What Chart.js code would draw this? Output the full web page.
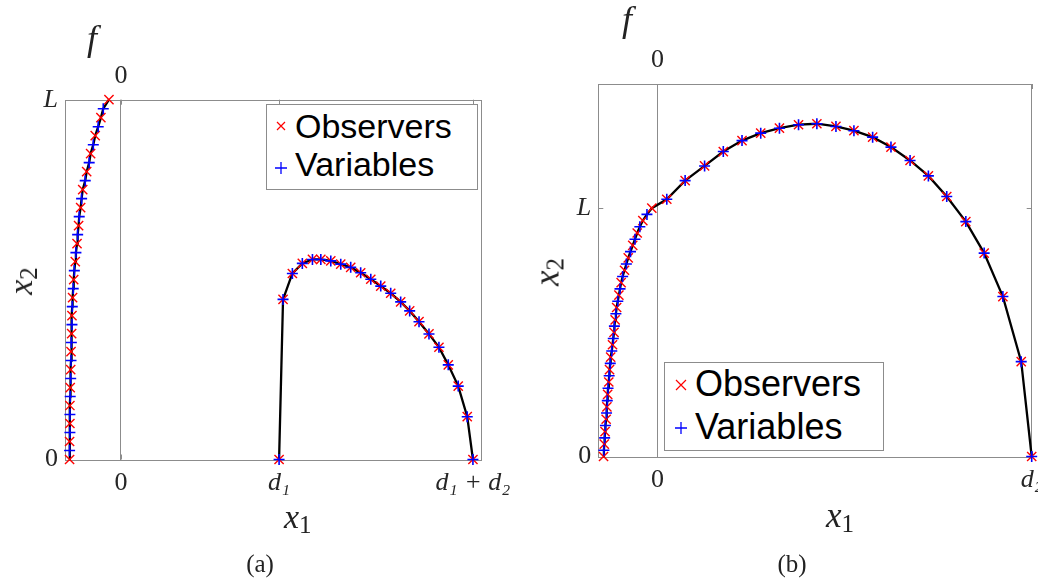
<!DOCTYPE html>
<html>
<head>
<meta charset="utf-8">
<script src="https://cdn.jsdelivr.net/npm/chart.js@4.4.1/dist/chart.umd.min.js"></script>
<style>
  html, body { margin: 0; padding: 0; background: #fff; width: 1038px; height: 583px; overflow: hidden; position: relative; }
  canvas { position: absolute; top: 0; }
  #chart-a { left: 0; }
  #chart-b { left: 519px; }
  .lbl { position: absolute; font-family: "Liberation Serif", "DejaVu Serif", serif; color: #222; white-space: nowrap; line-height: 1; }
  .lbl i { font-style: italic; }
  .lbl sub { font-style: normal; vertical-align: baseline; position: relative; }
  .legend { position: absolute; background: #fff; border: 1px solid #8c8c8c; font-family: "Liberation Sans", Arial, sans-serif; color: #000; box-sizing: border-box; }
  .legend span { position: absolute; line-height: 1; white-space: nowrap; }
  .legend svg { position: absolute; }
</style>
</head>
<body>
<canvas id="chart-a" width="519" height="583"></canvas>
<canvas id="chart-b" width="560" height="583"></canvas>

<div class="lbl" style="left:87px; top:20px; font-size:36px;"><i>f</i></div>
<div class="lbl" style="left:622px; top:1px; font-size:36px;"><i>f</i></div>

<div class="lbl" style="left:284px; top:500px; font-size:34px;"><i>x</i><sub style="font-size:25px; top:5px;">1</sub></div>
<div class="lbl" style="left:826px; top:498px; font-size:35px;"><i>x</i><sub style="font-size:25px; top:5px;">1</sub></div>

<div class="lbl" style="left:21px; top:281px; font-size:34px; transform: translate(-50%,-50%) rotate(-90deg);"><i>x</i><sub style="font-size:25px; top:5px;">2</sub></div>
<div class="lbl" style="left:547px; top:272px; font-size:35px; transform: translate(-50%,-50%) rotate(-90deg);"><i>x</i><sub style="font-size:25px; top:5px;">2</sub></div>

<div class="lbl" style="left:260px; top:563px; font-size:25px; transform: translate(-50%,-50%);">(a)</div>
<div class="lbl" style="left:792px; top:563px; font-size:25px; transform: translate(-50%,-50%);">(b)</div>

<div class="legend" style="left:266px; top:104px; width:212px; height:86px; font-size:34px;">
  <svg width="10" height="10" style="left:9px; top:16px;"><path d="M1 1L9 9M9 1L1 9" stroke="#ff0000" stroke-width="1.2"/></svg>
  <span style="left:28px; top:4px;">Observers</span>
  <svg width="14" height="14" style="left:7px; top:56px;"><path d="M7 1V13M1 7H13" stroke="#0000ff" stroke-width="1.3"/></svg>
  <span style="left:28px; top:42px;">Variables</span>
</div>
<div class="legend" style="left:664px; top:362px; width:220px; height:89px; font-size:36px;">
  <svg width="12" height="12" style="left:10px; top:16px;"><path d="M1 1L11 11M11 1L1 11" stroke="#ff0000" stroke-width="1.2"/></svg>
  <span style="left:30px; top:3px;">Observers</span>
  <svg width="14" height="14" style="left:9px; top:58px;"><path d="M7 1V13M1 7H13" stroke="#0000ff" stroke-width="1.3"/></svg>
  <span style="left:30px; top:46px;">Variables</span>
</div>

<script>
// heights x2 (in units of L) of observer / variable nodes on the f-boundary
const obsY = [0, 0.05, 0.1, 0.15, 0.2, 0.25, 0.3, 0.35, 0.4, 0.45, 0.5, 0.55, 0.6, 0.65, 0.7, 0.75, 0.8, 0.85, 0.9, 0.95, 1];
const varY = [0.025, 0.075, 0.125, 0.175, 0.225, 0.275, 0.325, 0.375, 0.425, 0.475, 0.525, 0.575, 0.625, 0.675, 0.725, 0.775, 0.825, 0.875, 0.925, 0.975];

// (a)  x1 in units of d1
const aObsF = [-0.325, -0.325, -0.323, -0.323, -0.321, -0.318, -0.316, -0.312, -0.310, -0.306, -0.299, -0.289, -0.278, -0.268, -0.255, -0.242, -0.217, -0.192, -0.163, -0.127, -0.076];
const aVarF = [-0.325, -0.323, -0.323, -0.321, -0.318, -0.316, -0.314, -0.310, -0.308, -0.302, -0.295, -0.285, -0.274, -0.264, -0.249, -0.226, -0.201, -0.175, -0.144, -0.112];
const aArcX = [1.0, 1.025, 1.084, 1.147, 1.211, 1.264, 1.327, 1.390, 1.453, 1.516, 1.580, 1.643, 1.706, 1.769, 1.826, 1.885, 1.948, 2.011, 2.070, 2.133, 2.190, 2.226];
const aArcY = [0, 0.445, 0.517, 0.545, 0.556, 0.556, 0.552, 0.543, 0.534, 0.519, 0.501, 0.482, 0.462, 0.438, 0.413, 0.383, 0.349, 0.312, 0.263, 0.204, 0.119, 0];
const aTickX = [0, 1, 2.226];
const aTickXLabels = ['0', 'd₁', 'd₁ + d₂'];

// (b)  x1 in units of d2
const bObsF = [-0.144, -0.142, -0.140, -0.137, -0.135, -0.133, -0.130, -0.128, -0.125, -0.120, -0.116, -0.113, -0.109, -0.103, -0.097, -0.088, -0.078, -0.066, -0.054, -0.039, -0.015];
const bVarF = [-0.143, -0.141, -0.139, -0.136, -0.134, -0.132, -0.129, -0.126, -0.122, -0.118, -0.115, -0.111, -0.106, -0.100, -0.093, -0.083, -0.072, -0.060, -0.047, -0.028];
const bArcX = [0.025, 0.074, 0.126, 0.176, 0.226, 0.276, 0.326, 0.377, 0.426, 0.477, 0.525, 0.575, 0.624, 0.675, 0.724, 0.773, 0.824, 0.873, 0.923, 0.972, 1.0];
const bArcY = [1.036, 1.111, 1.170, 1.228, 1.272, 1.302, 1.322, 1.336, 1.340, 1.329, 1.312, 1.286, 1.246, 1.192, 1.130, 1.047, 0.946, 0.819, 0.644, 0.382, 0];
const bTickX = [0, 1];
const bTickXLabels = ['0', 'd₂'];

const tickY = [0, 1];
const tickYLabels = ['0', 'L'];

const SERIF = '"Liberation Serif", "DejaVu Serif", serif';
const TXT = '#262626';

function pts(xs, ys) {
  return xs.map((x, i) => ({ x: x, y: ys[i] }));
}
function sortByY(a) {
  return a.slice().sort((p, q) => p.y - q.y);
}

// box round the plot area plus small inward ticks, matlab style
const frame = {
  id: 'frame',
  beforeDatasetsDraw(chart) {
    const { ctx, chartArea: a, scales } = chart;
    ctx.save();
    ctx.strokeStyle = '#8c8c8c';
    ctx.lineWidth = 1;
    ctx.strokeRect(Math.round(a.left) + 0.5, Math.round(a.top) + 0.5, Math.round(a.right - a.left), Math.round(a.bottom - a.top));
    ctx.beginPath();
    scales.x.ticks.forEach(t => {
      const px = Math.round(scales.x.getPixelForValue(t.value)) + 0.5;
      ctx.moveTo(px, a.top); ctx.lineTo(px, a.top + 5);
      ctx.moveTo(px, a.bottom); ctx.lineTo(px, a.bottom - 5);
    });
    scales.y.ticks.forEach(t => {
      const py = Math.round(scales.y.getPixelForValue(t.value)) + 0.5;
      ctx.moveTo(a.left, py); ctx.lineTo(a.left + 5, py);
      ctx.moveTo(a.right, py); ctx.lineTo(a.right - 5, py);
    });
    ctx.stroke();
    ctx.restore();
  }
};

function tickFont(labels, size) {
  return ctx => ({ family: SERIF, size: size, style: /[a-zA-Z]/.test(labels[ctx.index] || '') ? 'italic' : 'normal' });
}

function makePanel(id, p) {
  const datasets = [
    {
      label: 'Variables',
      data: p.variables,
      pointStyle: 'cross',
      pointRadius: 5.5,
      borderColor: '#0000ff',
      borderWidth: 1.6,
      backgroundColor: '#0000ff',
      order: 0,
      clip: false
    },
    {
      label: 'Observers',
      data: p.observers,
      pointStyle: 'crossRot',
      pointRadius: 6.5,
      borderColor: '#ff0000',
      borderWidth: 1.4,
      backgroundColor: '#ff0000',
      order: 1,
      clip: false
    }
  ];
  p.curves.forEach(c => datasets.push({
    label: 'curve',
    data: c,
    showLine: true,
    pointRadius: 0,
    borderColor: '#000',
    borderWidth: 2.3,
    tension: 0,
    order: 2,
    clip: false
  }));

  return new Chart(document.getElementById(id), {
    type: 'scatter',
    data: { datasets: datasets },
    options: {
      responsive: false,
      animation: false,
      events: [],
      layout: { padding: p.padding },
      plugins: { legend: { display: false }, tooltip: { enabled: false } },
      scales: {
        x: {
          type: 'linear',
          min: p.xMin,
          max: p.xMax,
          afterBuildTicks: s => { s.ticks = p.tickX.map(v => ({ value: v })); },
          afterFit: s => { s.height = 50; },
          ticks: {
            autoSkip: false,
            maxRotation: 0,
            padding: 8,
            color: TXT,
            font: tickFont(p.tickXLabels, 26),
            callback: (v, i) => p.tickXLabels[i]
          },
          grid: {
            drawTicks: false,
            lineWidth: 1,
            color: ctx => (ctx.tick && ctx.tick.value === 0) ? '#8c8c8c' : 'rgba(0,0,0,0)'
          },
          border: { display: false }
        },
        xTop: {
          type: 'linear',
          position: 'top',
          min: p.xMin,
          max: p.xMax,
          afterBuildTicks: s => { s.ticks = [{ value: 0 }]; },
          afterFit: s => { s.height = 50; },
          ticks: {
            autoSkip: false,
            maxRotation: 0,
            padding: 8,
            color: TXT,
            font: { family: SERIF, size: 26 },
            callback: () => '0'
          },
          grid: { display: false, drawTicks: false },
          border: { display: false }
        },
        y: {
          type: 'linear',
          min: 0,
          max: p.yMax,
          afterBuildTicks: s => { s.ticks = tickY.map(v => ({ value: v })); },
          afterFit: s => { s.width = 30; },
          ticks: {
            padding: 7,
            color: TXT,
            font: tickFont(tickYLabels, 26),
            callback: (v, i) => tickYLabels[i]
          },
          grid: { display: false, drawTicks: false },
          border: { display: false }
        }
      }
    },
    plugins: [frame]
  });
}

const aObs = pts(aObsF, obsY);
const aVar = pts(aVarF, varY);
const aArc = pts(aArcX, aArcY);
makePanel('chart-a', {
  observers: aObs.concat(aArc),
  variables: aVar.concat(aArc),
  curves: [sortByY(aObs.concat(aVar)), aArc],
  xMin: -0.354, xMax: 2.279, yMax: 1,
  tickX: aTickX, tickXLabels: aTickXLabels,
  padding: { left: 35, right: 37.3, top: 49.7, bottom: 73.5 }
});

const bObs = pts(bObsF, obsY);
const bVar = pts(bVarF, varY);
const bArc = pts(bArcX, bArcY);
makePanel('chart-b', {
  observers: bObs.concat(bArc),
  variables: bVar.concat(bArc),
  curves: [sortByY(bObs.concat(bVar)).concat(bArc)],
  xMin: -0.158, xMax: 1.0, yMax: 1.5,
  tickX: bTickX, tickXLabels: bTickXLabels,
  padding: { left: 49.3, right: 47.3, top: 34, bottom: 76.5 }
});
</script>
</body>
</html>
